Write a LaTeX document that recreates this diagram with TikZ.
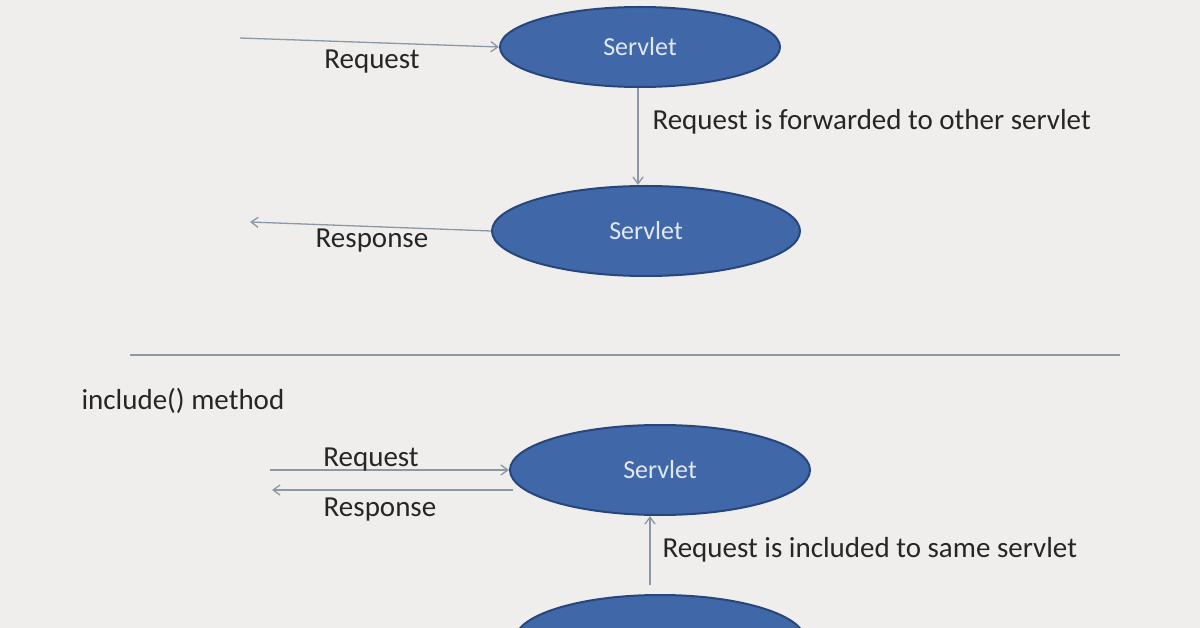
\documentclass[tikz,border=0pt]{standalone}
\usepackage{fontspec}
\setmainfont{Carlito}
\usetikzlibrary{shapes.geometric,arrows.meta}
\definecolor{bg}{HTML}{EFEEEC}
\definecolor{sfill}{HTML}{4068A8}
\definecolor{sdraw}{HTML}{27467C}
\definecolor{arr}{HTML}{8A98A8}
\begin{document}
\begin{tikzpicture}[x=1pt,y=-1pt,
  serv/.style={ellipse,fill=sfill,draw=sdraw,line width=2pt,text=white!85!sfill,font=\fontsize{26}{28}\selectfont},
  lab/.style={font=\fontsize{29}{31}\selectfont,text=black!85},
  ar/.style={draw=arr,line width=1.3pt,-{Straight Barb[length=7pt,width=10pt]}}]
\fill[bg] (0,0) rectangle (1200,628);
\useasboundingbox (0,0) rectangle (1200,628);
\clip (0,0) rectangle (1200,628);
\node[serv,minimum width=280pt,minimum height=80pt] (s1) at (640,47) {Servlet};
\node[serv,minimum width=308pt,minimum height=90pt] (s2) at (646,231) {Servlet};
\node[serv,minimum width=300pt,minimum height=90pt] (s3) at (660,470) {Servlet};
\node[serv,minimum width=290pt,minimum height=90pt] (s4) at (660,640) {};
\coordinate (a1) at (240,38);
\coordinate (a2) at (250,222);
\coordinate (a3) at (270,470);
\coordinate (a4) at (272,490);
\coordinate (v1) at (638,88);
\coordinate (v2) at (650,585);
\draw[ar] (a1) -- (s1.west);
\draw[ar] (v1) -- (v1 |- s2.north);
\draw[ar] (s2.west) -- (a2);
\draw[ar] (a3) -- (s3.west);
\draw[ar] (s3.west |- a4) ++(4,0) -- (a4);
\draw[ar] (v2) -- (650,516);
\node[lab] (l1) at (372,62) {Request};
\node[lab,anchor=west] (l2) at (649,122) {Request is forwarded to other servlet};
\node[lab] (l3) at (372,241) {Response};
\node[lab,anchor=west] (l4) at (78,401) {include() method};
\node[lab] (l5) at (371,460) {Request};
\node[lab] (l6) at (380,510) {Response};
\node[lab,anchor=west] (l7) at (659,550) {Request is included to same servlet};
\coordinate (h1) at (130,355);
\coordinate (h2) at (1120,355);
\draw[draw=arr,line width=1.3pt] (h1) -- (h2);
\end{tikzpicture}
\end{document}
